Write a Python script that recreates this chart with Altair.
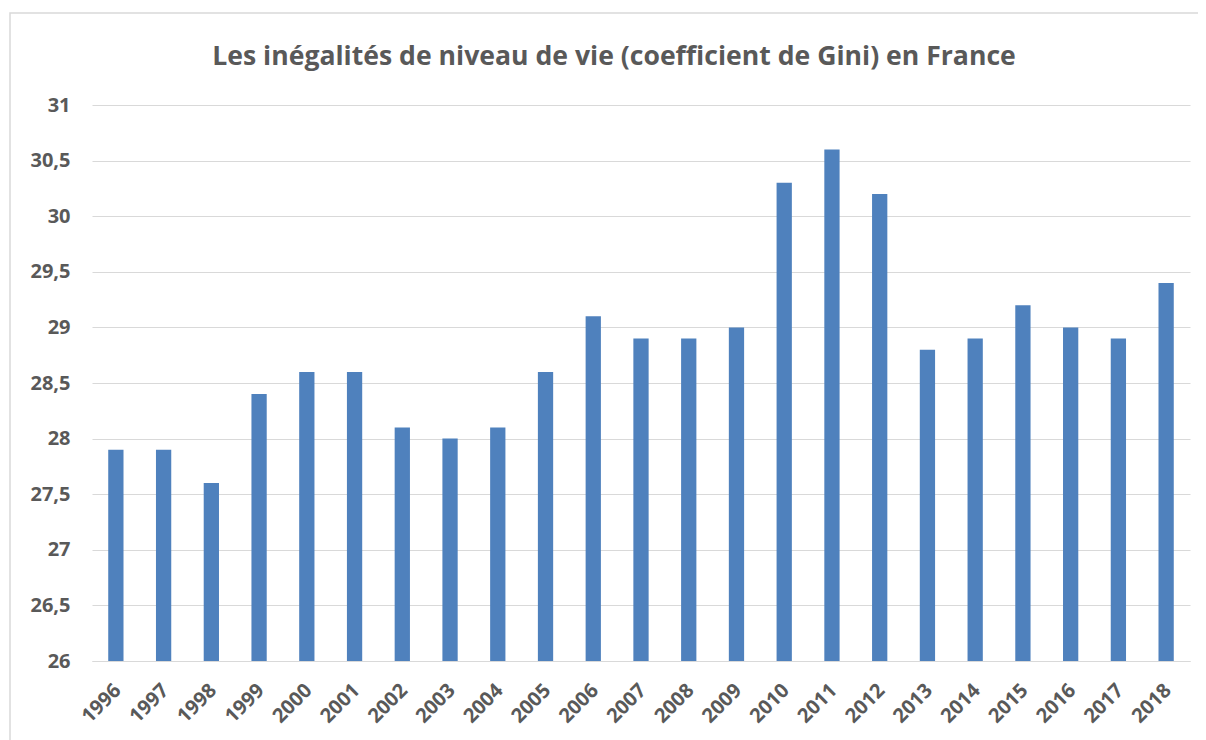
import altair as alt
import pandas as pd

years = [str(y) for y in range(1996, 2019)]
gini = [27.9, 27.9, 27.6, 28.4, 28.6, 28.6, 28.1, 28.0, 28.1, 28.6, 29.1, 28.9,
        28.9, 29.0, 30.3, 30.6, 30.2, 28.8, 28.9, 29.2, 29.0, 28.9, 29.4]
y_ticks = [26, 26.5, 27, 27.5, 28, 28.5, 29, 29.5, 30, 30.5, 31]

df = pd.DataFrame({"annee": years, "gini": gini})

FONT = "Open Sans"
GREY = "#595959"

bars = alt.Chart(df).mark_bar(color="#4F81BD").encode(
    x=alt.X("annee:N", sort=years, title=None,
            scale=alt.Scale(paddingInner=0.68, paddingOuter=0.34),
            axis=alt.Axis(labelAngle=-45, labelAlign="right", labelBaseline="middle",
                          labelFont=FONT, labelFontSize=20, labelFontWeight="bold",
                          labelColor=GREY, ticks=False, domainColor="#D9D9D9",
                          grid=False, labelPadding=26, labelOffset=2)),
    y=alt.Y("gini:Q", title=None,
            scale=alt.Scale(domain=[26, 31], zero=False, clamp=True),
            axis=alt.Axis(values=y_ticks, labelExpr="replace(toString(datum.value), '.', ',')",
                          labelFont=FONT, labelFontSize=20, labelFontWeight="bold",
                          labelColor=GREY, ticks=False, domain=False,
                          gridColor="#D9D9D9", gridWidth=1, labelPadding=22)),
)

frame = alt.Chart(pd.DataFrame({"f": [0]})).mark_rect(
    fill="transparent", stroke="#D9D9D9", strokeWidth=1.5
).encode(
    x=alt.value(-82), y=alt.value(-92), x2=alt.value(1300), y2=alt.value(800)
)

chart = alt.layer(frame, bars).properties(
    width=1098, height=556,
    background="white",
    title=alt.TitleParams("Les inégalités de niveau de vie (coefficient de Gini) en France",
                          font=FONT, fontSize=26.6, fontWeight="bold", color=GREY,
                          anchor="middle", offset=-58, dx=-27),
    autosize=alt.AutoSizeParams(type="none"),
    padding={"left": 84, "top": 97, "right": 8, "bottom": 79},
).configure_view(stroke=None, strokeWidth=0)

chart.save("out.html", embed_options={"renderer": "svg", "actions": False})
